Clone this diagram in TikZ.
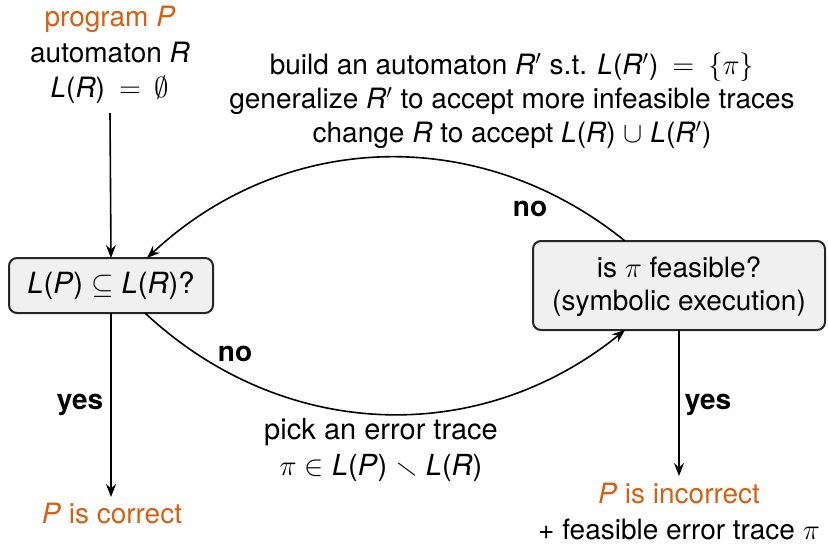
\documentclass[tikz,border=0pt]{standalone}
\usepackage{amssymb}
\usepackage{fontspec}
\setmainfont{TeX Gyre Heros}
\usetikzlibrary{arrows.meta}
\definecolor{outorange}{RGB}{217,95,14}
\definecolor{boxgray}{RGB}{240,240,240}
\newcommand{\vL}{\textit{L}}
\newcommand{\vR}{\textit{R}}
\newcommand{\vP}{\textit{P}}
\begin{document}
\begin{tikzpicture}[x=0.5pt,y=-0.5pt,
  font=\fontsize{14}{17.5}\selectfont,
  every node/.style={inner sep=0pt, outer sep=0pt},
  testbox/.style={draw=black!85, line width=1pt, fill=boxgray, rounded corners=4pt, align=center},
  flow/.style={line width=0.8pt, -{Stealth[length=6.5pt,width=5pt,inset=2.2pt]}},
  outcome/.style={text=outorange},
  branch/.style={font=\fontsize{14}{17.5}\selectfont\bfseries},
  txt/.style={align=center}
]
\useasboundingbox (0,0) rectangle (828,543);

% input
\node[txt, font=\fontsize{14}{17.8}\selectfont] (input) at (110,55) {{\color{outorange}program \vP}\\automaton \vR\\\vL(\vR)\enspace$=$\enspace$\emptyset$};
\coordinate (inbot) at (110,113);

% boxes
\node[testbox, minimum width=102pt, minimum height=27.5pt, font=\fontsize{14.6}{17.5}\selectfont] (incl) at (111,285.5) {\vL(\vP) $\subseteq$ \vL(\vR)?};
\node[testbox, minimum width=146pt, minimum height=44.5pt] (feas) at (679,285.5) {};
\node[txt, font=\fontsize{14}{16.5}\selectfont] (feastext) at (679,287)
  {is $\pi$ feasible?\\(symbolic execution)};

% outcomes
\node[outcome] (correct) at (112,513) {\vP{} is correct};
\node[txt, font=\fontsize{14}{18}\selectfont] (incorrect) at (679,511) {{\color{outorange}\vP{} is incorrect}\\+ feasible error trace $\pi$};
\coordinate (corrtop) at (111,497);
\coordinate (incorrtop) at (679,476);

% refine text
\node[txt, font=\fontsize{14}{17}\selectfont] (refine) at (512,101)
  {build an automaton \vR$'$ s.t. \vL(\vR$'$)\enspace$=$\enspace$\{\pi\}$\\
   generalize \vR$'$ to accept more infeasible traces\\
   change \vR{} to accept \vL(\vR) $\cup$ \vL(\vR$'$)};

% pick text
\node[txt, font=\fontsize{14.5}{18}\selectfont] (pick) at (381,450)
  {pick an error trace\\$\pi$ $\in$ \vL(\vP) $\smallsetminus$ \vL(\vR)};

% connectors
\draw[flow] (inbot) -- (incl.north);
\draw[flow] (incl.south) -- (corrtop);
\draw[flow] (feas.south) -- (incorrtop);
\draw[flow] ([xshift=34*0.5pt]incl.south) to[bend right=41] ([xshift=-54*0.5pt]feas.south);
\draw[flow] ([xshift=-54*0.5pt]feas.north) to[bend right=41] ([xshift=36*0.5pt]incl.north);

% labels
\node[branch] (nobot) at (235,354) {no};
\node[branch] (notop) at (530,209) {no};
\node[branch] (yesl) at (80,405) {yes};
\node[branch] (yesr) at (708,405) {yes};
\end{tikzpicture}
\end{document}
